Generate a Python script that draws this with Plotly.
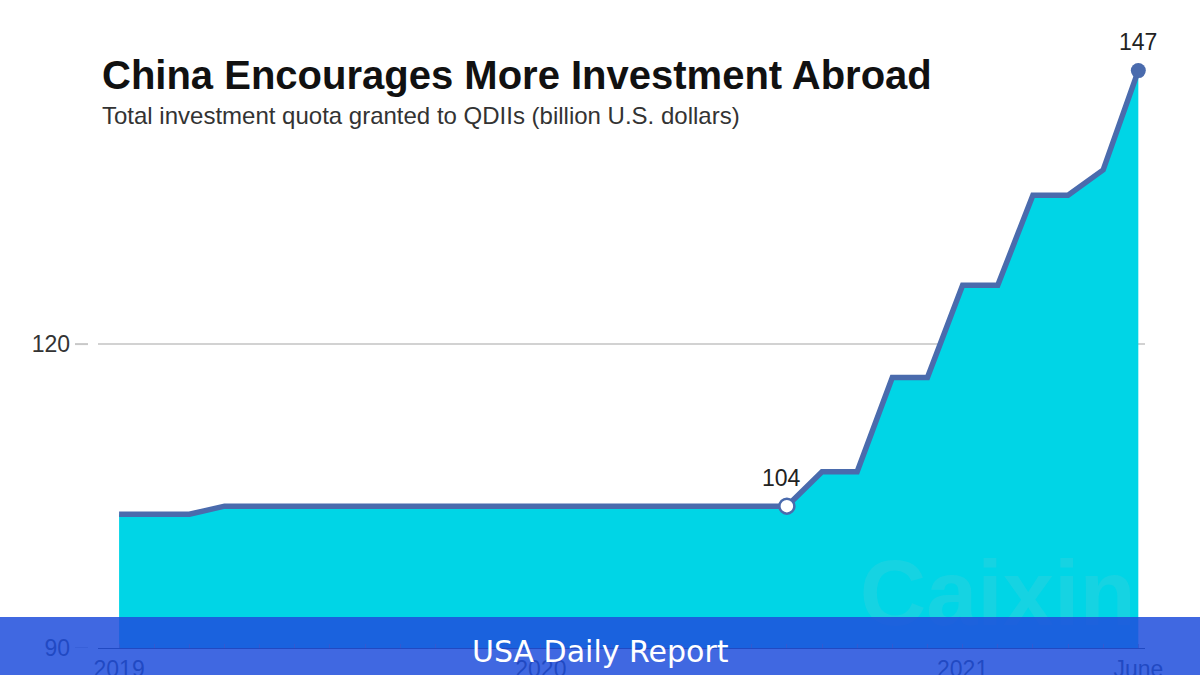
import plotly.graph_objects as go

# monthly, Jan 2019 to June 2021
months = [
    '2019-01', '2019-02', '2019-03', '2019-04', '2019-05', '2019-06',
    '2019-07', '2019-08', '2019-09', '2019-10', '2019-11', '2019-12',
    '2020-01', '2020-02', '2020-03', '2020-04', '2020-05', '2020-06',
    '2020-07', '2020-08', '2020-09', '2020-10', '2020-11', '2020-12',
    '2021-01', '2021-02', '2021-03', '2021-04', '2021-05', '2021-06',
]
quota = [
    103.2, 103.2, 103.2, 104, 104, 104,
    104, 104, 104, 104, 104, 104,
    104, 104, 104, 104, 104, 104,
    104, 104, 107.4, 107.4, 116.7, 116.7,
    125.8, 125.8, 134.7, 134.7, 137.2, 147,
]
x_labels = {'2019-01': '2019', '2020-01': '2020', '2021-01': '2021', '2021-06': 'June'}
y_ticks = [90, 120]

title = 'China Encourages More Investment Abroad'
subtitle = 'Total investment quota granted to QDIIs (billion U.S. dollars)'
banner = 'USA Daily Report'

W, H = 1200, 675
LEFT, RIGHT, TOP, BOTTOM = 98, 55, 10, 27
plot_w = W - LEFT - RIGHT
plot_h = H - TOP - BOTTOM


def px(x):
    return (x - LEFT) / plot_w


def py(y):
    return (H - BOTTOM - y) / plot_h


fig = go.Figure()

fig.add_trace(go.Scatter(
    x=months, y=quota, mode='lines',
    line=dict(color='#4a6bad', width=5.5),
    fill='tozeroy', fillcolor='#00d5e6',
    hoverinfo='skip',
))

# faint watermark, sits under the banner
fig.add_trace(go.Scatter(
    x=['2021-02'], y=[94.5], mode='text', text=['<b>Caixin</b>'],
    textposition='middle center', cliponaxis=True,
    textfont=dict(family='Liberation Sans', size=92, color='rgba(170,200,200,0.13)'),
    hoverinfo='skip',
))

# the two labelled points
fig.add_trace(go.Scatter(
    x=[months[19]], y=[quota[19]], mode='markers',
    marker=dict(size=15, color='white', line=dict(color='#4a6bad', width=2.5)),
    cliponaxis=False,
))
fig.add_trace(go.Scatter(
    x=[months[29]], y=[quota[29]], mode='markers',
    marker=dict(size=15, color='#4a6bad'),
    cliponaxis=False,
))

fig.update_xaxes(
    type='category', categoryorder='array', categoryarray=months,
    range=[-0.6, 29.19], automargin=False,
    tickmode='array', tickvals=months,
    ticktext=[x_labels.get(m, '') for m in months],
    ticks='inside', ticklen=4, tickcolor='#999999', tickwidth=1,
    ticklabelstandoff=0,
    showline=True, linecolor='#333333', linewidth=1,
    showgrid=False, zeroline=False,
    tickfont=dict(family='Liberation Sans', size=23, color='#333333'),
)
fig.update_yaxes(
    range=[90, 90 + plot_h / 10.13], automargin=False,
    tickvals=y_ticks,
    ticks='', ticklabelstandoff=27,
    showgrid=True, gridcolor='#d2d2d2', gridwidth=2,
    showline=False, zeroline=False,
    tickfont=dict(family='Liberation Sans', size=23, color='#333333'),
)

shapes = [
    # little dashes beside the y labels
    dict(type='line', xref='paper', yref='y', x0=px(75), x1=px(88), y0=v, y1=v,
         line=dict(color='#c8c8c8', width=2), layer='below')
    for v in y_ticks
]
shapes.append(dict(
    type='rect', xref='paper', yref='paper',
    x0=px(0), x1=px(W), y0=py(H), y1=py(617),
    fillcolor='rgba(31,78,220,0.85)', line=dict(width=0), layer='above',
))

annotations = [
    dict(text=title, x=px(100), y=py(75), xref='paper', yref='paper',
         xanchor='left', yanchor='middle', showarrow=False,
         font=dict(family='Liberation Sans', size=40, color='#111111', weight='bold')),
    dict(text=subtitle, x=px(100), y=py(116), xref='paper', yref='paper',
         xanchor='left', yanchor='middle', showarrow=False,
         font=dict(family='Liberation Sans', size=24, color='#333333')),
    dict(text=banner, x=px(600), y=py(651), xref='paper', yref='paper',
         xanchor='center', yanchor='middle', showarrow=False,
         font=dict(family='DejaVu Sans', size=30, color='white')),
    dict(text='104', x=months[19], y=quota[19], xref='x', yref='y',
         xshift=-5, yshift=28, xanchor='center', yanchor='middle', showarrow=False,
         font=dict(family='Liberation Sans', size=23, color='#222222')),
    dict(text='147', x=months[29], y=quota[29], xref='x', yref='y',
         yshift=29, xanchor='center', yanchor='middle', showarrow=False,
         font=dict(family='Liberation Sans', size=23, color='#222222')),
]

fig.update_layout(
    width=W, height=H,
    margin=dict(l=LEFT, r=RIGHT, t=TOP, b=BOTTOM),
    paper_bgcolor='white', plot_bgcolor='white',
    showlegend=False, hovermode=False,
    shapes=shapes, annotations=annotations,
)

# page default margin would push the chart off by 8px
fig.write_html('out.html', config={'displayModeBar': False},
               post_script="document.body.style.margin='0';")
